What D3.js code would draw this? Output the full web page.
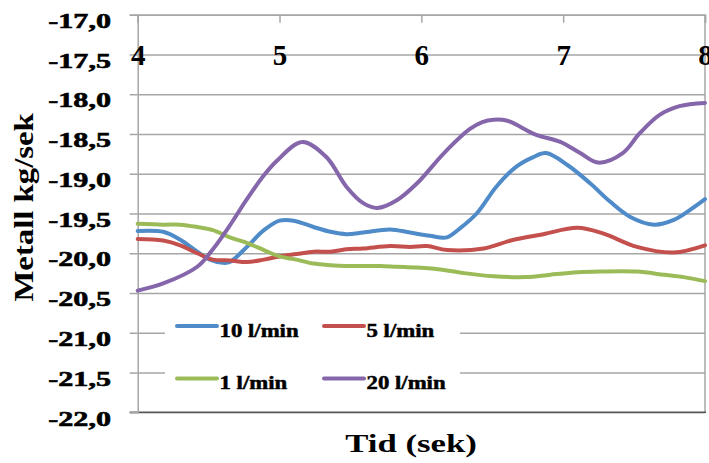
<!DOCTYPE html>
<html>
<head>
<meta charset="utf-8">
<script src="https://cdn.jsdelivr.net/npm/d3@7"></script>
<style>
  html, body { margin: 0; padding: 0; background: #fff; }
  svg { display: block; }
  text { font-family: "Liberation Serif", "Times New Roman", serif; font-weight: bold; fill: #000; }
</style>
</head>
<body>
<svg id="chart" width="709" height="463"></svg>
<script>
// Metal flow (kg/sek) over time for four gas flow rates
const xTicks = [4, 5, 6, 7, 8];
const yTicks = [-17, -17.5, -18, -18.5, -19, -19.5, -20, -20.5, -21, -21.5, -22];
const seriesNames = ["10 l/min", "5 l/min", "1 l/min", "20 l/min"];
const seriesColors = ["#4E8BC8", "#C4504D", "#9BBB59", "#8566AA"];

// [time (sek), metal (kg/sek)]
const flow10 = [
  [4.00, -19.72], [4.18, -19.73], [4.30, -19.83], [4.42, -19.98], [4.51, -20.08],
  [4.60, -20.12], [4.65, -20.11], [4.77, -19.92], [4.89, -19.71], [5.00, -19.59],
  [5.10, -19.59], [5.24, -19.67], [5.36, -19.73], [5.47, -19.76], [5.59, -19.74],
  [5.78, -19.70], [5.92, -19.74], [6.06, -19.78], [6.18, -19.80], [6.27, -19.69],
  [6.39, -19.50], [6.53, -19.16], [6.67, -18.91], [6.79, -18.79], [6.88, -18.74],
  [7.03, -18.89], [7.19, -19.12], [7.33, -19.35], [7.47, -19.54], [7.64, -19.64],
  [7.78, -19.58], [7.89, -19.46], [8.00, -19.32]
];
const flow5 = [
  [4.00, -19.82], [4.18, -19.84], [4.30, -19.90], [4.42, -20.00], [4.53, -20.08],
  [4.65, -20.09], [4.77, -20.11], [4.89, -20.08], [5.00, -20.04], [5.12, -20.01],
  [5.24, -19.98], [5.36, -19.98], [5.47, -19.95], [5.59, -19.94], [5.78, -19.91],
  [5.92, -19.92], [6.04, -19.91], [6.18, -19.96], [6.44, -19.94], [6.63, -19.84],
  [6.86, -19.76], [7.10, -19.68], [7.28, -19.75], [7.52, -19.92], [7.78, -19.99],
  [8.00, -19.90]
];
const flow1 = [
  [4.00, -19.63], [4.18, -19.64], [4.30, -19.64], [4.42, -19.67], [4.53, -19.71],
  [4.65, -19.80], [4.77, -19.87], [4.89, -19.96], [5.00, -20.04], [5.12, -20.08],
  [5.24, -20.13], [5.36, -20.15], [5.47, -20.16], [5.59, -20.16], [5.71, -20.16],
  [5.83, -20.17], [5.97, -20.18], [6.16, -20.21], [6.30, -20.25], [6.51, -20.29],
  [6.74, -20.30], [6.91, -20.27], [7.10, -20.24], [7.26, -20.23], [7.52, -20.23],
  [7.71, -20.27], [7.85, -20.30], [8.00, -20.35]
];
const flow20 = [
  [4.00, -20.47], [4.18, -20.38], [4.42, -20.17], [4.53, -19.95], [4.65, -19.65],
  [4.77, -19.32], [4.89, -19.02], [4.98, -18.84], [5.16, -18.60], [5.33, -18.79],
  [5.47, -19.16], [5.59, -19.37], [5.69, -19.43], [5.83, -19.33], [5.97, -19.12],
  [6.16, -18.74], [6.34, -18.44], [6.43, -18.35], [6.51, -18.32], [6.60, -18.33],
  [6.81, -18.51], [6.98, -18.60], [7.12, -18.74], [7.25, -18.86], [7.42, -18.74],
  [7.54, -18.49], [7.68, -18.26], [7.82, -18.15], [8.00, -18.11]
];
const seriesData = [flow10, flow5, flow1, flow20];

const svg = d3.select("#chart");
const plotLeft = 137.7, plotRight = 705, plotTop = 14.7, plotBottom = 412.3;

const x = d3.scaleLinear().domain([4, 8]).range([plotLeft, plotRight]);
const y = d3.scaleLinear().domain([-22, -17]).range([plotBottom, plotTop]);

const locale = d3.formatLocale({ decimal: ",", thousands: ".", grouping: [3], currency: ["", ""], minus: "-" });
const yFmt = locale.format(".1f");

// horizontal gridlines
svg.append("g")
  .attr("transform", `translate(${plotLeft},0)`)
  .call(d3.axisLeft(y).tickValues(yTicks).tickSize(-(plotRight - plotLeft)).tickFormat(""))
  .call(g => g.select(".domain").remove())
  .call(g => g.selectAll("line").attr("stroke", "#A6A6A6").attr("stroke-width", 1.5));

// right border
svg.append("line")
  .attr("x1", plotRight).attr("x2", plotRight).attr("y1", plotTop).attr("y2", plotBottom)
  .attr("stroke", "#A6A6A6").attr("stroke-width", 1.5);

// bottom edge
svg.append("line")
  .attr("x1", plotLeft - 8).attr("x2", plotRight + 1).attr("y1", plotBottom).attr("y2", plotBottom)
  .attr("stroke", "#555").attr("stroke-width", 1.5);

// y axis with tick labels
svg.append("g")
  .attr("transform", `translate(${plotLeft},0)`)
  .call(d3.axisLeft(y).tickValues(yTicks).tickSize(8).tickFormat(yFmt))
  .call(g => g.select(".domain").attr("stroke", "#A6A6A6").attr("stroke-width", 1.5))
  .call(g => g.selectAll(".tick line").attr("stroke", "#A6A6A6").attr("stroke-width", 1.5))
  .call(g => g.selectAll(".tick text")
    .attr("x", 0).attr("dy", 0)
    .attr("text-anchor", "end")
    .attr("transform", "translate(-26.7,12.7) scale(1.37,1)")
    .style("font-family", '"Liberation Serif", serif')
    .style("font-weight", "bold")
    .style("font-size", "22px")
    .attr("fill", "#000")
    .attr("stroke", "#000")
    .attr("stroke-width", 0.6));

// x axis along the top
svg.append("g")
  .attr("transform", `translate(0,${plotTop})`)
  .call(d3.axisTop(x).tickValues(xTicks).tickSize(-8).tickFormat(d3.format("d")))
  .call(g => g.select(".domain").attr("stroke", "#A6A6A6").attr("stroke-width", 1.5))
  .call(g => g.selectAll(".tick line").attr("stroke", "#A6A6A6").attr("stroke-width", 1.5))
  .call(g => g.selectAll(".tick text")
    .attr("y", 50.5).attr("dy", 0)
    .attr("text-anchor", "middle")
    .style("font-family", '"Liberation Serif", serif')
    .style("font-weight", "bold")
    .style("font-size", "29px")
    .attr("fill", "#000"));

// series lines
const line = d3.line()
  .x(d => x(d[0]))
  .y(d => y(d[1]))
  .curve(d3.curveCatmullRom.alpha(0.5));

svg.append("g")
  .selectAll("path")
  .data(seriesData)
  .join("path")
  .attr("d", line)
  .attr("fill", "none")
  .attr("stroke", (d, i) => seriesColors[i])
  .attr("stroke-width", 4)
  .attr("stroke-linejoin", "round")
  .attr("stroke-linecap", "round");

// legend
const legend = svg.append("g");
legend.append("rect")
  .attr("x", 165).attr("y", 303).attr("width", 295).attr("height", 97)
  .attr("fill", "#fff");

const legendPos = [
  { lx: 177, ly: 326 },
  { lx: 324, ly: 326 },
  { lx: 177, ly: 378.5 },
  { lx: 324, ly: 378.5 }
];
const items = legend.selectAll("g.item")
  .data(seriesNames)
  .join("g")
  .attr("class", "item")
  .attr("transform", (d, i) => `translate(${legendPos[i].lx},${legendPos[i].ly})`);
items.append("line")
  .attr("x1", 0).attr("x2", 40).attr("y1", 0).attr("y2", 0)
  .attr("stroke", (d, i) => seriesColors[i])
  .attr("stroke-width", 4)
  .attr("stroke-linecap", "round");
items.append("text")
  .attr("transform", "translate(42.5,10.8) scale(1.2,1)")
  .attr("stroke", "#000")
  .attr("stroke-width", 0.5)
  .style("font-size", "19px")
  .text(d => d);

// axis titles
svg.append("text")
  .attr("transform", "translate(411,451.7) scale(1.39,1)")
  .attr("text-anchor", "middle")
  .style("font-size", "25px")
  .text("Tid (sek)");

svg.append("text")
  .attr("transform", "translate(33,207.4) rotate(-90) scale(1.17,1)")
  .attr("text-anchor", "middle")
  .style("font-size", "28px")
  .text("Metall kg/sek");
</script>
</body>
</html>
